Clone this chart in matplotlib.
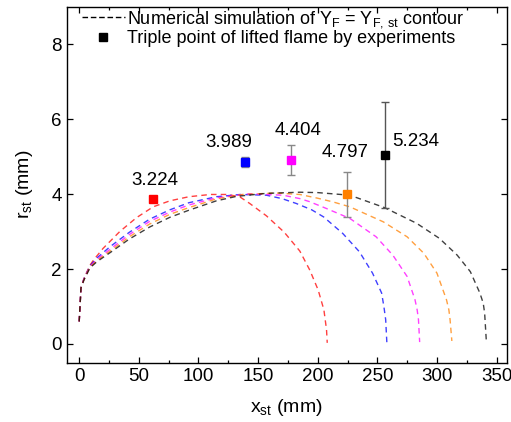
import matplotlib
matplotlib.use("Agg")
import matplotlib.pyplot as plt
from matplotlib.ticker import MultipleLocator

plt.rcParams['font.family'] = ['Liberation Sans', 'DejaVu Sans']
plt.rcParams['mathtext.fontset'] = 'custom'
plt.rcParams['mathtext.rm'] = 'Liberation Sans'
plt.rcParams['mathtext.it'] = 'Liberation Sans:italic'

# ---- contour data (numerical simulation) ----
red_x = [0, 1.5, 4, 9, 12, 20, 34, 48, 62, 76, 92, 110, 125, 135, 143, 157, 172, 185, 193.4, 200.4, 205.2, 207.4, 208]
red_y = [0.6, 1.5, 1.75, 2.1, 2.24, 2.55, 3.0, 3.37, 3.66, 3.82, 3.93, 3.99, 3.99, 3.92, 3.75, 3.42, 2.98, 2.48, 1.97, 1.44, 0.91, 0.38, 0.03]

blue_x = [0, 1.5, 4, 9, 15, 26, 42, 59, 76, 92, 115, 135, 157, 170, 182, 195, 205, 221, 235, 246, 253.6, 255.5, 257, 258]
blue_y = [0.6, 1.5, 1.74, 2.08, 2.3, 2.6, 2.98, 3.33, 3.58, 3.77, 3.93, 3.99, 3.97, 3.88, 3.75, 3.58, 3.39, 2.95, 2.46, 1.89, 1.36, 1.0, 0.65, 0.03]

mag_x = [0, 1.5, 4, 9, 15, 26, 42, 59, 76, 92, 115, 143, 171, 185, 193, 207, 227, 249, 263, 275, 281.6, 283.4, 284.5, 285.5]
mag_y = [0.6, 1.5, 1.73, 2.06, 2.26, 2.53, 2.92, 3.27, 3.52, 3.71, 3.90, 4.01, 3.97, 3.88, 3.80, 3.62, 3.35, 2.86, 2.37, 1.80, 1.18, 0.91, 0.65, 0.05]

ora_x = [0, 1.5, 4, 9, 15, 26, 42, 59, 76, 92, 115, 137, 165, 185, 200, 213, 227, 255, 275, 289, 300, 308, 310, 311, 312.5]
ora_y = [0.6, 1.5, 1.72, 2.05, 2.23, 2.48, 2.86, 3.2, 3.46, 3.64, 3.87, 3.99, 4.03, 3.99, 3.89, 3.79, 3.66, 3.26, 2.86, 2.42, 1.89, 1.18, 0.91, 0.65, 0.08]

blk_x = [0, 1.5, 4, 9, 15, 26, 42, 59, 76, 92, 115, 132, 157, 185, 200, 227, 256, 283, 302, 317, 328, 336, 338.8, 340, 341.5]
blk_y = [0.6, 1.5, 1.71, 2.03, 2.2, 2.44, 2.8, 3.12, 3.38, 3.57, 3.82, 3.94, 4.02, 4.05, 4.04, 3.97, 3.64, 3.22, 2.82, 2.37, 1.93, 1.36, 1.09, 0.82, 0.03]

# ---- experimental triple points ----
pt_x = [62.0, 139.0, 177.2, 224.7, 256.3]
pt_y = [3.88, 4.85, 4.90, 3.99, 5.05]
pt_err = [0.0, 0.13, 0.40, 0.61, 1.42]
pt_labels = ['3.224', '3.989', '4.404', '4.797', '5.234']

colors = ['#ff0000', '#0000ff', '#ff00ff', '#ff8000', '#000000']
curves = [(red_x, red_y), (blue_x, blue_y), (mag_x, mag_y), (ora_x, ora_y), (blk_x, blk_y)]

fig = plt.figure(figsize=(5.11, 4.22), dpi=100)
ax = fig.add_axes([0.1305, 0.1405, 0.9916 - 0.1305, 0.984 - 0.1405])

for (cx, cy), c in zip(curves, colors):
    ax.plot(cx, cy, color=c, lw=1.0, alpha=0.75, linestyle=(0, (4, 3)))

err_colors = ['#888888', '#888888', '#888888', '#888888', '#555555']
for x, y, e, c, ec in zip(pt_x, pt_y, pt_err, colors, err_colors):
    if e > 0:
        ax.errorbar([x], [y], yerr=[e], fmt='none', ecolor=ec, elinewidth=1.0, capsize=2.6, capthick=1.0, zorder=3)
    ax.plot([x], [y], marker='s', ms=5.3, color=c, mec=c, linestyle='none', zorder=4)

offsets = [(1.2, 13.2, 'center'), (-11.3, 14.4, 'center'), (5.5, 21.6, 'center'), (-1.7, 30.5, 'center'), (5.0, 9.8, 'left')]
for x, y, lab, (dx, dy, ha) in zip(pt_x, pt_y, pt_labels, offsets):
    ax.annotate(lab, (x, y), xytext=(dx, dy), textcoords='offset points', ha=ha, va='center', fontsize=13.5)

# legend handles
h1, = ax.plot([], [], color='black', lw=1.0, linestyle=(0, (4, 2)))
h2, = ax.plot([], [], marker='s', ms=5.3, color='black', linestyle='none')
ax.legend([h1, h2], [r'Numerical simulation of Y$_{\rm F}$ = Y$_{\rm F,\,st}$ contour',
                     'Triple point of lifted flame by experiments'],
          loc='upper left', bbox_to_anchor=(0.034, 0.993), frameon=False, fontsize=13,
          handlelength=2.4, handletextpad=0.1, borderpad=0.0, labelspacing=0.0, borderaxespad=0.0)

ax.set_xlim(-10.5, 358.5)
ax.set_ylim(-0.5, 9.0)
ax.xaxis.set_major_locator(MultipleLocator(50))
ax.xaxis.set_minor_locator(MultipleLocator(25))
ax.yaxis.set_major_locator(MultipleLocator(2))
ax.tick_params(which='both', direction='in', top=True, right=True, labelsize=13.5)
ax.tick_params(which='major', length=4.5, width=0.9)
ax.tick_params(which='minor', length=2.5, width=0.9)
ax.tick_params(axis='y', which='minor', left=False, right=False)
for s in ax.spines.values():
    s.set_linewidth(1.0)

ax.set_xlabel(r'x$_{\rm st}$ (mm)', fontsize=14, labelpad=9)
ax.set_ylabel(r'r$_{\rm st}$ (mm)', fontsize=14, labelpad=12)

fig.savefig('out.png', dpi=100)
